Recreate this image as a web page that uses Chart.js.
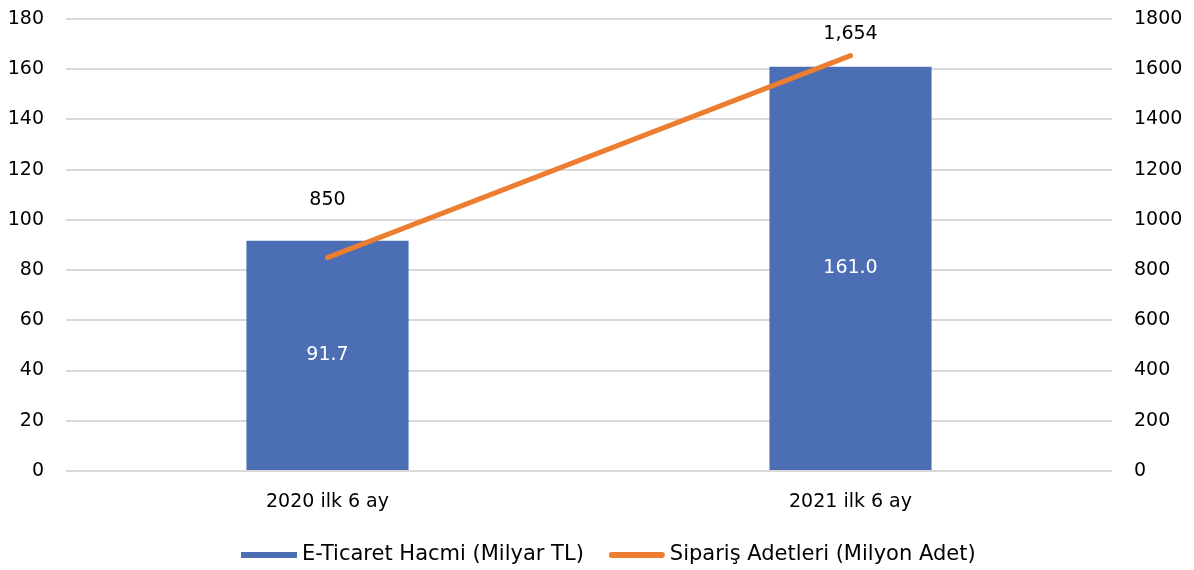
<!DOCTYPE html>
<html>
<head>
<meta charset="utf-8">
<script src="https://cdn.jsdelivr.net/npm/chart.js@4/dist/chart.umd.min.js"></script>
<style>
  html, body { margin: 0; padding: 0; background: #fff; }
  #wrap { width: 1194px; height: 570px; }
</style>
</head>
<body>
<div id="wrap"><canvas id="myChart" width="1194" height="570"></canvas></div>
<script>
const labels = ['2020 ilk 6 ay', '2021 ilk 6 ay'];
const hacim = [91.7, 161.0];
const siparis = [850, 1654];
const leftTicks = [0, 180, 20];
const rightTicks = [0, 1800, 200];

const FONT = '"DejaVu Sans", sans-serif';
const FS = 19;

// labels on bars and line points
const valueLabels = {
  id: 'valueLabels',
  afterDatasetsDraw(chart) {
    const ctx = chart.ctx;
    ctx.save();
    ctx.font = FS + 'px ' + FONT;
    ctx.textAlign = 'center';
    ctx.textBaseline = 'middle';
    chart.getDatasetMeta(1).data.forEach((el, i) => {
      ctx.fillStyle = '#ffffff';
      ctx.fillText(hacim[i].toFixed(1), el.x, (el.y + el.base) / 2);
    });
    const offs = [57, 22];
    chart.getDatasetMeta(0).data.forEach((el, i) => {
      ctx.fillStyle = '#000000';
      ctx.fillText(siparis[i].toLocaleString('en-US'), el.x, el.y - offs[i]);
    });
    ctx.restore();
  }
};

// legend drawn by hand (bar first, then line)
const bottomLegend = {
  id: 'bottomLegend',
  afterDraw(chart) {
    const ctx = chart.ctx;
    const ds = chart.data.datasets;
    const items = [ds[1], ds[0]];
    ctx.save();
    ctx.font = '21px ' + FONT;
    ctx.textBaseline = 'middle';
    ctx.textAlign = 'left';
    let x = 241;
    const y = 555;
    items.forEach((d, i) => {
      if (d.type === 'bar') {
        ctx.fillStyle = d.backgroundColor;
        ctx.fillRect(x, y - 3, 56, 6);
      } else {
        ctx.strokeStyle = d.borderColor;
        ctx.lineWidth = 6;
        ctx.lineCap = 'round';
        ctx.beginPath();
        ctx.moveTo(x + 3, y);
        ctx.lineTo(x + 53, y);
        ctx.stroke();
      }
      x += 61;
      ctx.fillStyle = '#000';
      ctx.fillText(d.label, x, y);
      x += ctx.measureText(d.label).width + 25;
    });
    ctx.restore();
  }
};

const data = {
  labels: labels,
  datasets: [{
    type: 'line',
    label: 'Sipariş Adetleri (Milyon Adet)',
    data: siparis,
    yAxisID: 'y1',
    borderColor: '#ED7D31',
    backgroundColor: '#ED7D31',
    borderWidth: 5,
    borderCapStyle: 'round',
    pointRadius: 0,
    tension: 0,
    order: 0
  }, {
    type: 'bar',
    label: 'E-Ticaret Hacmi (Milyar TL)',
    data: hacim,
    yAxisID: 'y',
    backgroundColor: '#4B6EB4',
    barPercentage: 0.31,
    categoryPercentage: 1,
    order: 1
  }]
};

const config = {
  data: data,
  plugins: [valueLabels, bottomLegend],
  options: {
    responsive: false,
    animation: false,
    layout: { padding: { top: 19, bottom: 47 } },
    plugins: {
      tooltip: { enabled: false },
      legend: { display: false }
    },
    scales: {
      x: {
        grid: { display: false },
        border: { display: false },
        ticks: { color: '#000', font: { family: FONT, size: FS }, padding: 12 },
        afterFit(s) { s.height = 52; }
      },
      y: {
        position: 'left',
        min: leftTicks[0], max: leftTicks[1],
        ticks: { stepSize: leftTicks[2], color: '#000', font: { family: FONT, size: FS }, padding: 22 },
        grid: { color: '#D9D9D9', lineWidth: 2, drawTicks: false },
        border: { display: false },
        afterFit(s) { s.width = 66; s.paddingTop = 0; s.paddingBottom = 0; }
      },
      y1: {
        position: 'right',
        min: rightTicks[0], max: rightTicks[1],
        ticks: {
          stepSize: rightTicks[2], color: '#000', font: { family: FONT, size: FS }, padding: 22,
          callback: v => String(v)
        },
        grid: { display: false, drawTicks: false },
        border: { display: false },
        afterFit(s) { s.width = 82; s.paddingTop = 0; s.paddingBottom = 0; }
      }
    }
  }
};

const myChart = new Chart(document.getElementById('myChart'), config);
</script>
</body>
</html>
